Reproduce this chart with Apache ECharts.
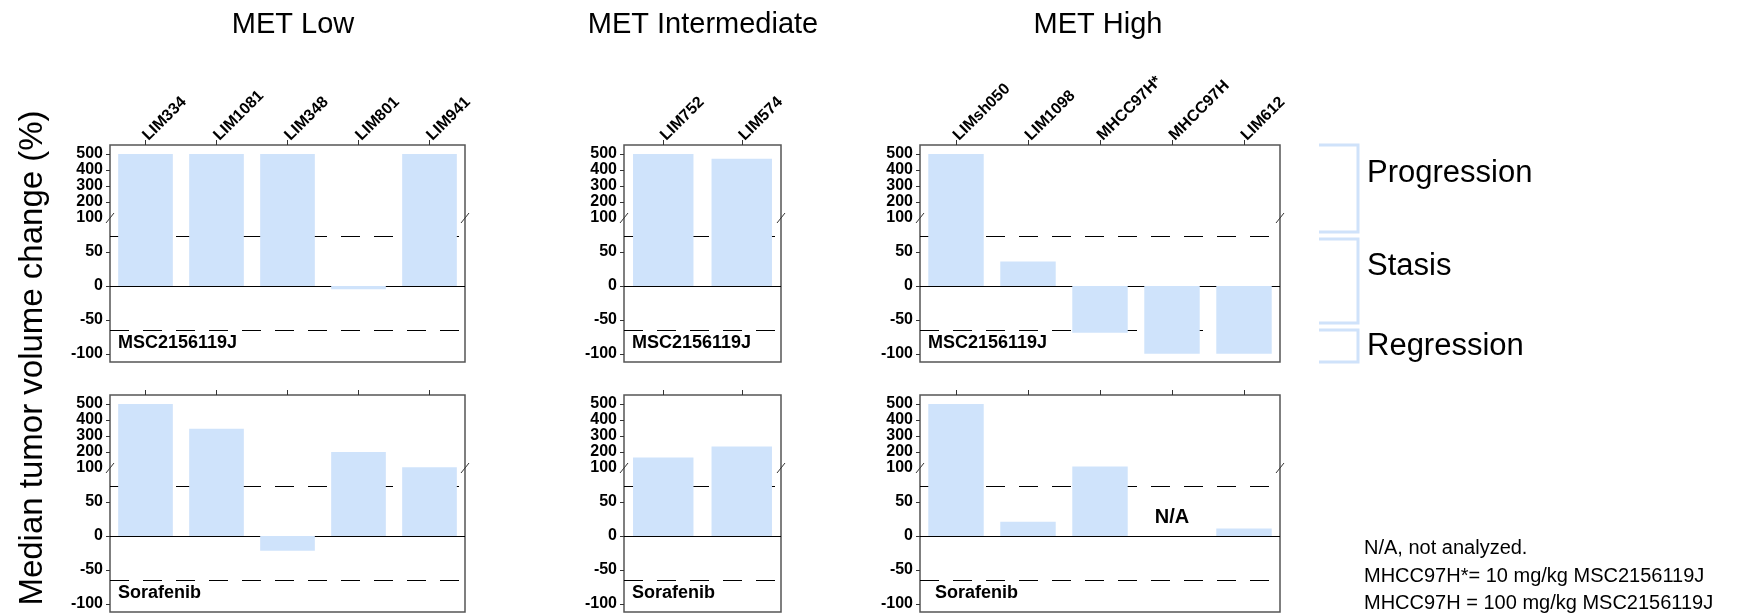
<!DOCTYPE html>
<html>
<head>
<meta charset="utf-8">
<title>Median tumor volume change</title>
<script src="https://cdn.jsdelivr.net/npm/echarts@6.0.0/dist/echarts.min.js"></script>
<style>
    html, body { margin: 0; padding: 0; background: #fff; }
    #ch { width: 1738px; height: 615px; }
</style>
</head>
<body>
<div id="ch"></div>
<script>
// categories
var lowCats = ['LIM334', 'LIM1081', 'LIM348', 'LIM801', 'LIM941'];
var midCats = ['LIM752', 'LIM574'];
var highCats = ['LIMsh050', 'LIM1098', 'MHCC97H*', 'MHCC97H', 'LIM612'];

// median tumor volume change (%)
var lowMsc = [500, 500, 500, -5, 500];
var lowSora = [500, 345, -22, 200, 105];
var midMsc = [500, 470];
var midSora = [165, 235];
var highMsc = [500, 36, -69, -100, -100];
var highSora = [500, 21, 110, null, 11];

// tick labels of the broken axis
var upperTicks = [100, 200, 300, 400, 500];
var lowerTicks = [-100, -50, 0, 50];

// response thresholds
var progressionCut = 73;
var regressionCut = -65.7;

var font = '"Liberation Sans", Arial, sans-serif';
var barColor = '#cfe3fb';

var cols = [
    {left: 110, width: 355, titleX: 293, title: 'MET Low', cats: lowCats, data: [lowMsc, lowSora]},
    {left: 624, width: 157, titleX: 703, title: 'MET Intermediate', cats: midCats, data: [midMsc, midSora]},
    {left: 920, width: 360, titleX: 1098, title: 'MET High', cats: highCats, data: [highMsc, highSora]}
];
var rows = [
    {top: 145, brk: 218, bottom: 362, label: 'MSC2156119J'},
    {top: 395, brk: 468, bottom: 612, label: 'Sorafenib'}
];

var grid = [], xAxis = [], yAxis = [], series = [], graphic = [];
var labelStyle = {fontSize: 16, fontWeight: 'bold', color: '#000', fontFamily: font};
var tickStyle = {color: '#333', width: 1};

rows.forEach(function (row, r) {
    cols.forEach(function (col, c) {
        var gi = grid.length;
        var ai = xAxis.length;
        // upper part 100..556 (compressed)
        grid.push({left: col.left, width: col.width, top: row.top, height: row.brk - row.top, outerBoundsMode: 'none'});
        // lower part -112..100
        grid.push({left: col.left, width: col.width, top: row.brk, height: row.bottom - row.brk, outerBoundsMode: 'none'});
        // frame
        grid.push({left: col.left, width: col.width, top: row.top, height: row.bottom - row.top, outerBoundsMode: 'none',
            show: true, borderColor: '#555', borderWidth: 1.5, backgroundColor: 'transparent'});

        xAxis.push({
            type: 'category', gridIndex: gi, data: col.cats, position: 'top',
            axisLine: {show: false},
            axisTick: {show: true, alignWithLabel: true, length: 5, lineStyle: tickStyle},
            axisLabel: Object.assign({show: r === 0, rotate: -45, margin: 7, interval: 0}, labelStyle)
        });
        xAxis.push({type: 'category', gridIndex: gi + 1, data: col.cats, show: false});

        yAxis.push({
            type: 'value', gridIndex: gi, min: 100, max: 556,
            axisLine: {show: false}, splitLine: {show: false},
            axisTick: {show: true, length: 4, customValues: upperTicks.slice(1), lineStyle: tickStyle},
            axisLabel: Object.assign({customValues: upperTicks, margin: 7, showMinLabel: true, showMaxLabel: true, hideOverlap: false}, labelStyle)
        });
        yAxis.push({
            type: 'value', gridIndex: gi + 1, min: -112, max: 100,
            axisLine: {show: false}, splitLine: {show: false},
            axisTick: {show: true, length: 4, customValues: lowerTicks, lineStyle: tickStyle},
            axisLabel: Object.assign({customValues: lowerTicks, margin: 7, showMinLabel: true, showMaxLabel: true}, labelStyle)
        });

        var vals = col.data[r];
        series.push({
            type: 'bar', xAxisIndex: ai, yAxisIndex: ai, data: vals,
            barWidth: '77%', clip: true, z: 3, silent: true, animation: false,
            itemStyle: {color: barColor}
        });
        var lower = {
            type: 'bar', xAxisIndex: ai + 1, yAxisIndex: ai + 1, data: vals,
            barWidth: '77%', clip: true, z: 3, silent: true, animation: false,
            itemStyle: {color: barColor},
            markLine: {
                silent: true, symbol: 'none', z: 1, animation: false,
                label: {show: false},
                data: [
                    {yAxis: 0, lineStyle: {type: 'solid', color: '#000', width: 1.2}},
                    {yAxis: progressionCut, lineStyle: {type: [19, 14], color: '#000', width: 1.2}},
                    {yAxis: regressionCut, lineStyle: {type: [19, 14], color: '#000', width: 1.2}}
                ]
            }
        };
        // N/A marker for missing values
        var na = [];
        vals.forEach(function (v, i) {
            if (v === null) na.push({coord: [col.cats[i], 27]});
        });
        if (na.length) {
            lower.markPoint = {
                symbol: 'circle', symbolSize: 0, silent: true, animation: false,
                label: {show: true, position: 'inside', formatter: 'N/A', fontSize: 20, fontWeight: 'bold', color: '#000', fontFamily: font},
                data: na
            };
        }
        series.push(lower);

        // break marks
        [col.left, col.left + col.width].forEach(function (x) {
            graphic.push({type: 'line', shape: {x1: x - 4, y1: row.brk + 5, x2: x + 4, y2: row.brk - 5},
                style: {stroke: '#333', lineWidth: 1}, z: 10});
        });
        // treatment label
        graphic.push({type: 'text', left: col.left + (r === 1 && c === 2 ? 15 : 8), top: row.bottom - 28,
            style: {text: row.label, fill: '#000', font: 'bold 18px ' + font}, z: 10});
        if (r === 0) {
            graphic.push({type: 'text', x: col.titleX, y: 25,
                style: {text: col.title, fill: '#000', font: '29px ' + font, textAlign: 'center', textVerticalAlign: 'middle'}});
        }
    });
});

// y axis name
graphic.push({type: 'text', x: 33, y: 358, rotation: Math.PI / 2,
    style: {text: 'Median tumor volume change (%)', fill: '#000', font: '33px ' + font, textAlign: 'center', textVerticalAlign: 'middle'}});

// response brackets
var brackets = [
    {name: 'Progression', y1: 145, y2: 232, ty: 173},
    {name: 'Stasis', y1: 239, y2: 323, ty: 266},
    {name: 'Regression', y1: 330, y2: 362, ty: 346}
];
brackets.forEach(function (b) {
    graphic.push({type: 'polyline', shape: {points: [[1319, b.y1], [1358, b.y1], [1358, b.y2], [1319, b.y2]]},
        style: {stroke: '#cfe2fa', lineWidth: 3, fill: null}});
    graphic.push({type: 'text', x: 1367, y: b.ty,
        style: {text: b.name, fill: '#000', font: '31px ' + font, textVerticalAlign: 'middle'}});
});

// footnote
graphic.push({type: 'text', x: 1364, y: 576,
    style: {text: 'N/A, not analyzed.\nMHCC97H*= 10 mg/kg MSC2156119J\nMHCC97H = 100 mg/kg MSC2156119J',
        fill: '#000', font: '20px ' + font, lineHeight: 27.5, textVerticalAlign: 'middle'}});

var chart = echarts.init(document.getElementById('ch'));
chart.setOption({
    animation: false,
    textStyle: {fontFamily: font},
    grid: grid,
    xAxis: xAxis,
    yAxis: yAxis,
    series: series,
    graphic: graphic
});
</script>
</body>
</html>
